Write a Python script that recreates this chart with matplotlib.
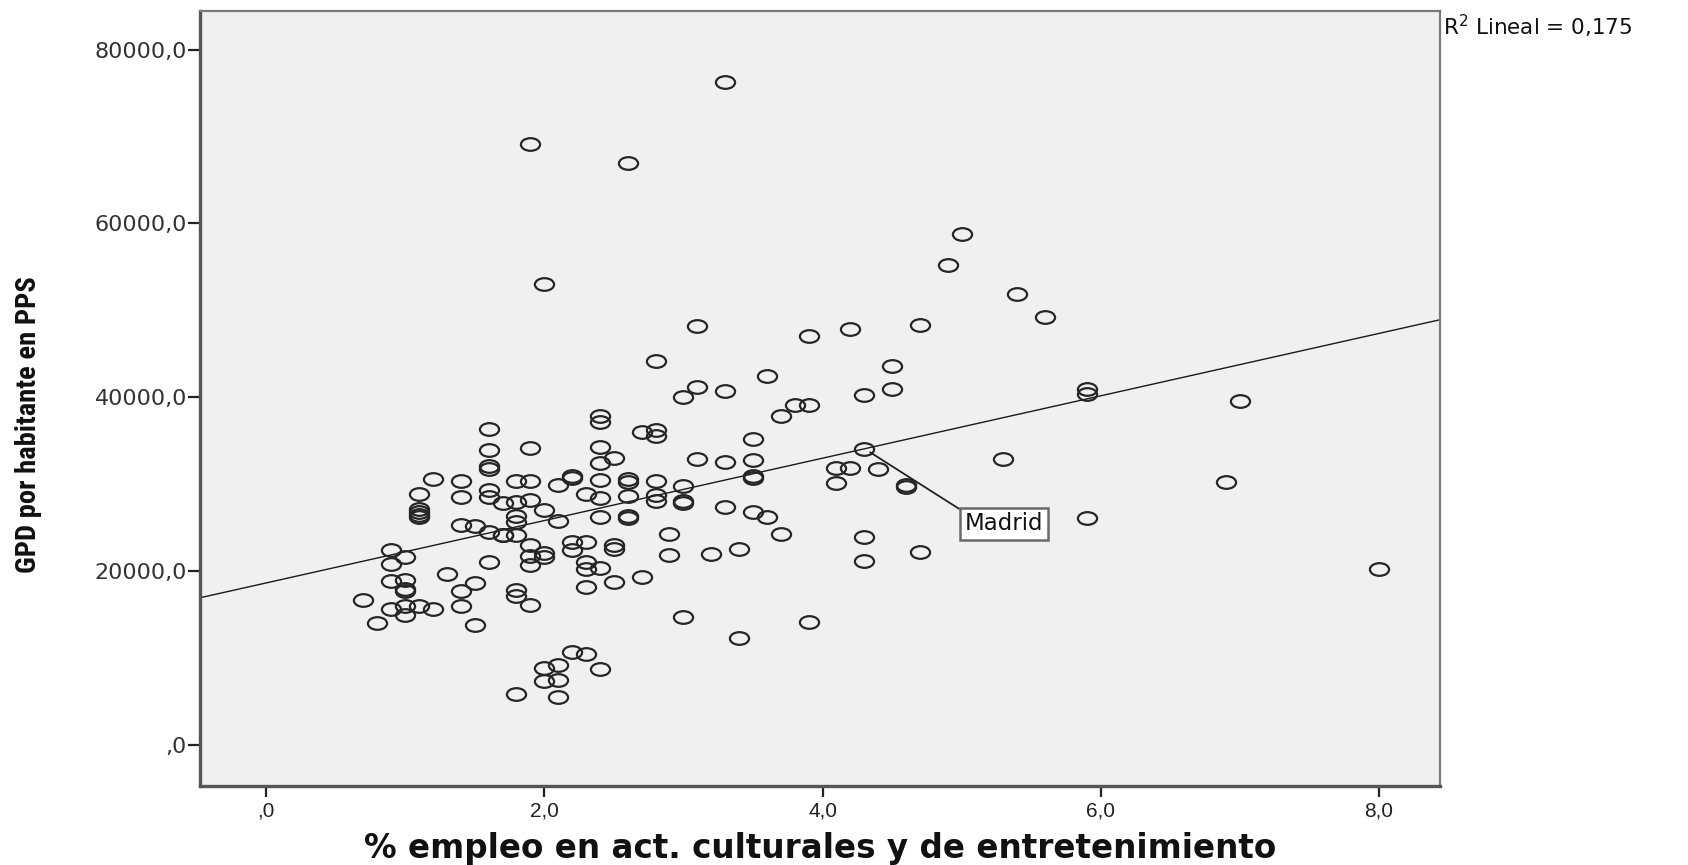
import numpy as np
import matplotlib
matplotlib.use("Agg")
import matplotlib.pyplot as plt
from matplotlib import font_manager
from matplotlib.path import Path
from matplotlib.transforms import Affine2D

# % employment in cultural & entertainment activities (x) and GDP per inhabitant in PPS (y)
empleo_pct = (
    [0.7] + [0.8] + [0.9] * 4 + [1.0] * 6 + [1.1] * 6 + [1.2] * 2 + [1.3]
    + [1.4] * 5 + [1.5] * 3 + [1.6] * 8 + [1.7] * 3 + [1.8] * 8 + [1.9] * 8
    + [2.0] * 6 + [2.1] * 5 + [2.2] * 5 + [2.3] * 6 + [2.4] * 9 + [2.5] * 4
    + [2.6] * 6 + [2.7] * 2 + [2.8] * 6 + [2.9] * 2 + [3.0] * 5 + [3.1] * 3
    + [3.2] + [3.3] * 4 + [3.4] * 2 + [3.5] * 5 + [3.6] * 2 + [3.7] * 2 + [3.8]
    + [3.9] * 3 + [4.1] * 2 + [4.2] * 2 + [4.3] * 4 + [4.4] + [4.5] * 2
    + [4.6] * 2 + [4.7] * 2 + [4.9] + [5.0] + [5.3] + [5.4] + [5.6] + [5.9] * 3
    + [6.9] + [7.0] + [8.0]
)
gdp_pps = [
    16700,
    14000,
    22400, 20800, 18900, 15600,
    21600, 19000, 17900, 17700, 16000, 14900,
    28900, 27200, 26800, 26500, 26200, 16000,
    30600, 15600,
    19700,
    30400, 28500, 25300, 17700, 16000,
    25200, 18600, 13800,
    36400, 33900, 32100, 31800, 29300, 28500, 24500, 21100,
    27800, 24200, 24100,
    30400, 28000, 26300, 25700, 24100, 17800, 17100, 5900,
    69200, 34200, 30400, 28200, 23000, 21700, 20700, 16100,
    53000, 27000, 22100, 21600, 8900, 7400,
    29900, 25800, 9200, 7500, 5500,
    30900, 30700, 23300, 22400, 10700,
    28900, 23300, 21000, 20300, 18200, 10500,
    37900, 37200, 34300, 32400, 30500, 28400, 26200, 20400, 8700,
    33000, 23000, 22600, 18800,
    67000, 30600, 30300, 28600, 26300, 26100,
    36000, 19300,
    44200, 36200, 35500, 30400, 28800, 28100,
    24300, 21800,
    40000, 29800, 28100, 27800, 14700,
    48200, 41200, 32900,
    22000,
    76300, 40700, 32600, 27400,
    22500, 12300,
    35200, 32800, 30900, 30700, 26800,
    42500, 26200,
    37900, 24300,
    39100,
    47100, 39100, 14100,
    31900, 30100,
    47900, 31900,
    40300, 34100, 23900, 21200,
    31700,
    43600, 41000,
    29900, 29700,
    48300, 22200,
    55200,
    58800,
    32900,
    51900,
    49200,
    41000, 40400, 26100,
    30200,
    39600,
    20200,
]

x_ticks = [0, 2, 4, 6, 8]
x_tick_labels = [",0", "2,0", "4,0", "6,0", "8,0"]
y_ticks = [0, 20000, 40000, 60000, 80000]
y_tick_labels = [",0", "20000,0", "40000,0", "60000,0", "80000,0"]

x_title = "% empleo en act. culturales y de entretenimiento"
y_title = "GPD por habitante en PPS"
r2_label = r"R$^2$ Lineal = 0,175"
point_label = "Madrid"
point_label_xy = (4.3, 34100)

x = np.array(empleo_pct)
y = np.array(gdp_pps)

plt.rcParams["mathtext.default"] = "regular"

fig = plt.figure(figsize=(16.88, 8.65), dpi=100)
fig.patch.set_facecolor("white")
ax = fig.add_axes([0.1185, 0.0913, 0.7346, 0.896])
ax.set_facecolor("#f0f0f0")
ax.set_xlim(-0.474, 8.438)
ax.set_ylim(-4728, 84450)

# open, slightly flattened circle markers
ellipse = Path.unit_circle().transformed(Affine2D().scale(1.0, 0.66))
ax.plot(x, y, linestyle="none", marker=ellipse, markersize=13.8,
        markerfacecolor="none", markeredgecolor="#262626",
        markeredgewidth=1.6, zorder=3)

# least-squares fit line across the whole x range
slope, intercept = np.polyfit(x, y, 1)
xl = np.array(ax.get_xlim())
ax.plot(xl, intercept + slope * xl, color="#1a1a1a", lw=1.0, zorder=2)

ax.annotate(point_label, xy=point_label_xy, xytext=(5.02, 25450),
            textcoords="data", ha="left", va="center", fontsize=16.5,
            family="DejaVu Sans", color="#111111", zorder=5,
            bbox=dict(boxstyle="square,pad=0.2", fc="white",
                      ec="#6a6a6a", lw=1.8),
            arrowprops=dict(arrowstyle="-", color="#222222", lw=1.3,
                            relpos=(0, 1), shrinkA=0, shrinkB=5))

ax.set_xticks(x_ticks)
ax.set_xticklabels(x_tick_labels, family="Liberation Sans", fontsize=15,
                   color="#222222")
ax.set_yticks(y_ticks)
ax.set_yticklabels(y_tick_labels, family="DejaVu Sans", fontsize=16,
                   color="#333333")
ax.tick_params(axis="x", direction="out", length=8, width=1.6,
               color="#222222", pad=3)
ax.tick_params(axis="y", direction="out", length=8.5, width=1.6,
               color="#222222", pad=1)

for side in ("left", "bottom"):
    ax.spines[side].set_color("#555555")
    ax.spines[side].set_linewidth(2.4)
for side in ("top", "right"):
    ax.spines[side].set_color("#7a7a7a")
    ax.spines[side].set_linewidth(1.6)

fig.text(820 / 1688, 0.0185, x_title, ha="center", va="center",
         fontsize=23.5, fontweight="bold", family="DejaVu Sans",
         color="#111111")

# condensed heavy face for the vertical axis title, when one is installed
installed = {f.name for f in font_manager.fontManager.ttflist}
if "Roboto Condensed" in installed:
    y_font, y_size = "Roboto Condensed", 20.5
elif "Liberation Sans Narrow" in installed:
    y_font, y_size = "Liberation Sans Narrow", 20
else:
    y_font, y_size = "Liberation Sans", 16.5
fig.text(29 / 1688, 0.509, y_title, ha="center", va="center",
         rotation=90, fontsize=y_size, fontweight="bold",
         family=y_font, color="#111111")

fig.text(1443 / 1688, 0.969, r2_label, ha="left", va="center",
         fontsize=15.5, family="DejaVu Sans", color="#111111")

fig.savefig("out.png", dpi=100, facecolor="white")
